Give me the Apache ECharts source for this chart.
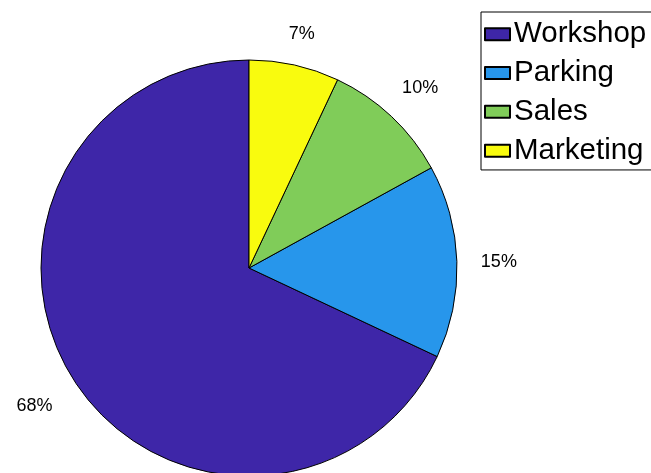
<!DOCTYPE html>
<html>
<head>
<meta charset="utf-8">
<script src="https://cdn.jsdelivr.net/npm/echarts@6/dist/echarts.min.js"></script>
<style>
html,body{margin:0;padding:0;background:#fff;}
#chart{width:651px;height:473px;}
</style>
</head>
<body>
<div id="chart"></div>
<script>
const categories = ['Workshop', 'Parking', 'Sales', 'Marketing'];
const values = [68, 15, 10, 7];
const colors = ['#3e26a8', '#2796eb', '#80cc59', '#f9fb0e'];
// distance of each percentage label beyond the rim (style)
const labelGaps = [46, 42, 42, 34];

const chart = echarts.init(document.getElementById('chart'), null, {renderer: 'canvas'});
const font = '"Liberation Sans", Arial, Helvetica, sans-serif';

chart.setOption({
  animation: false,
  backgroundColor: '#ffffff',
  legend: {
    orient: 'vertical',
    left: 481,
    top: 12,
    data: categories,
    icon: 'rect',
    itemWidth: 25,
    itemHeight: 12,
    itemGap: 8.8,
    padding: [7.25, 14, 4.3, 3],
    backgroundColor: '#ffffff',
    borderColor: '#000000',
    borderWidth: 1,
    borderRadius: 0,
    selectedMode: false,
    textStyle: {
      fontFamily: font,
      fontSize: 29.5,
      lineHeight: 29.5,
      color: '#000000',
      padding: [0, 0, 0, -1]
    }
  },
  series: [{
    type: 'pie',
    center: [249, 268],
    radius: [0, 208],
    startAngle: 90,
    clockwise: false,
    avoidLabelOverlap: false,
    silent: true,
    itemStyle: {borderColor: '#000000', borderWidth: 1},
    label: {
      show: true,
      position: 'outside',
      formatter: '{c}%',
      fontFamily: font,
      fontSize: 18,
      color: '#000000',
      distanceToLabelLine: 0
    },
    labelLine: {show: false, length: 42, length2: 0},
    labelLayout: function () { return {align: 'center', verticalAlign: 'middle', dy: 2}; },
    data: categories.map((name, i) => ({
      name: name,
      value: values[i],
      itemStyle: {color: colors[i]},
      labelLine: {show: false, length: labelGaps[i], length2: 0}
    }))
  }]
});
</script>
</body>
</html>
